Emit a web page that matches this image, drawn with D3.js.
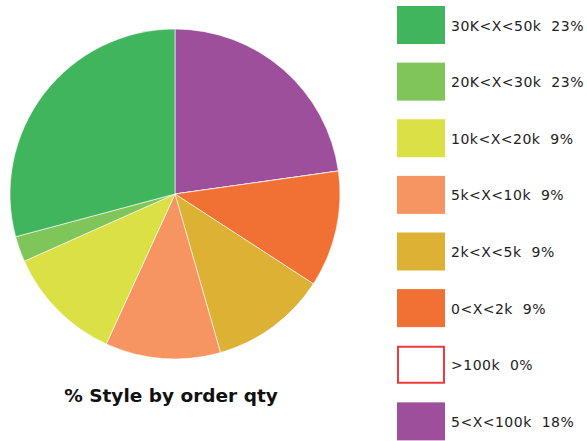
<!DOCTYPE html>
<html><head><meta charset="utf-8">
<script src="https://cdn.jsdelivr.net/npm/d3@7"></script>
<style>body{margin:0;background:#fff}svg{display:block}text{font-family:"DejaVu Sans",sans-serif}</style>
</head><body>
<script>
// Legend order (top to bottom)
const categories = ["30K<X<50k","20K<X<30k","10k<X<20k","5k<X<10k","2k<X<5k","0<X<2k",">100k","5<X<100k"];
const legendPct = ["23%","23%","9%","9%","9%","9%","0%","18%"];
// Slice sizes (percent of circle)
const sliceValues = [29.2, 2.5, 11.5, 11.3, 11.4, 11.4, 0, 22.8];
const colors = ["#41b55e","#80c55a","#dbe045","#f69562","#dcb134","#f17134","#ffffff","#9d4f9c"];
const title = "% Style by order qty";

const W=587,H=441;
const svg=d3.select("body").append("svg").attr("width",W).attr("height",H);
const cx=175, cy=194, r=165;

const idx=d3.range(categories.length).reverse();
const pie=d3.pie().sort(null).value(i=>sliceValues[i]);
const arc=d3.arc().innerRadius(0).outerRadius(r);
const g=svg.append("g").attr("transform",`translate(${cx},${cy})`);
g.selectAll("path").data(pie(idx)).join("path")
  .attr("d",arc).attr("fill",d=>colors[d.data])
  .attr("stroke","#fff").attr("stroke-width",0.6);

svg.append("text").attr("x",171).attr("y",402).attr("text-anchor","middle")
  .attr("font-size",18.5).attr("font-weight","bold").attr("fill","#111").text(title);

const y=d3.scaleBand().domain(d3.range(categories.length)).range([6,459]).paddingInner(0);
const lg=svg.append("g");
const items=lg.selectAll("g").data(d3.range(categories.length)).join("g")
  .attr("transform",i=>`translate(397,${y(i)})`);
items.append("rect").attr("x",d=>categories[d]===">100k"?1:0).attr("y",d=>categories[d]===">100k"?1:0)
  .attr("width",d=>categories[d]===">100k"?46:48).attr("height",d=>categories[d]===">100k"?36:38)
  .attr("fill",d=>colors[d])
  .attr("stroke",d=>categories[d]===">100k"?"#ec3a3f":"none").attr("stroke-width",2);
items.append("text").attr("x",54).attr("y",24.5).attr("font-size",14).attr("letter-spacing",0.5).attr("fill","#222")
  .attr("xml:space","preserve").text(d=>categories[d]+"  "+legendPct[d]);
</script>
</body></html>
